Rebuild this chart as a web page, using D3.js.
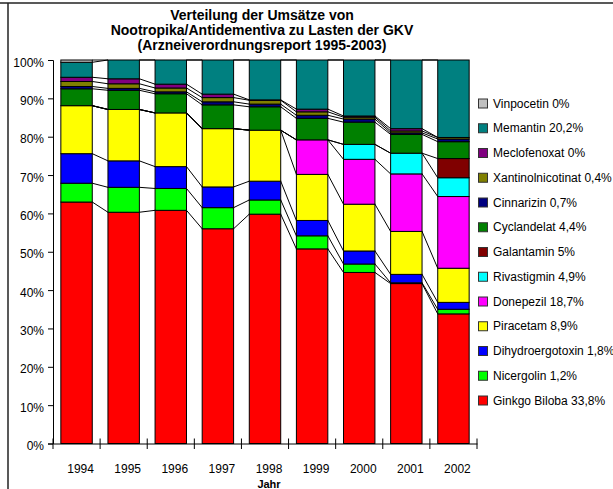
<!DOCTYPE html>
<html>
<head>
<meta charset="utf-8">
<script src="https://cdn.jsdelivr.net/npm/d3@7"></script>
<style>
  body { margin: 0; background: #fff; }
  text { font-family: "Liberation Sans", Arial, sans-serif; fill: #000; }
</style>
</head>
<body>
<div class="content"></div>
<script>
// chart values (percent of GKV sales)
var years = ["1994", "1995", "1996", "1997", "1998", "1999", "2000", "2001", "2002"];

var ginkgo       = [62.9, 60.3, 60.8, 56.0, 59.8, 50.7, 44.6, 41.7, 33.8];
var nicergolin   = [4.9, 6.5, 5.7, 5.5, 3.7, 3.4, 2.2, 0.2, 1.2];
var dihydro      = [7.7, 6.9, 5.7, 5.4, 4.9, 4.0, 3.4, 2.2, 1.8];
var piracetam    = [12.5, 13.4, 14.0, 15.2, 13.3, 12.0, 12.2, 11.2, 8.9];
var donepezil    = [0, 0, 0, 0, 0, 9.0, 11.7, 15.0, 18.7];
var rivastigmin  = [0, 0, 0, 0, 0, 0, 3.9, 5.4, 4.9];
var galantamin   = [0, 0, 0, 0, 0, 0, 0, 0, 5.0];
var cyclandelat  = [4.4, 5.0, 5.0, 6.2, 6.1, 5.6, 5.8, 4.9, 4.4];
var cinnarizin   = [0.6, 0.5, 0.5, 0.8, 0.7, 0.8, 0.8, 0.4, 0.7];
var xantinol     = [1.3, 1.2, 1.0, 1.1, 1.0, 0.9, 0.5, 0.5, 0.4];
var meclofenoxat = [1.1, 1.3, 1.0, 0.9, 0.1, 0.7, 0.3, 0.6, 0];
var memantin     = [3.9, 4.9, 6.3, 8.9, 10.4, 12.8, 14.6, 17.9, 20.2];
var vinpocetin   = [0.6, 0, 0, 0, 0, 0, 0, 0, 0];

// bottom to top
var seriesNames = ["Ginkgo Biloba", "Nicergolin", "Dihydroergotoxin", "Piracetam", "Donepezil",
    "Rivastigmin", "Galantamin", "Cyclandelat", "Cinnarizin", "Xantinolnicotinat",
    "Meclofenoxat", "Memantin", "Vinpocetin"];
var seriesValues = [ginkgo, nicergolin, dihydro, piracetam, donepezil, rivastigmin, galantamin,
    cyclandelat, cinnarizin, xantinol, meclofenoxat, memantin, vinpocetin];
var legendLabels = ["Ginkgo Biloba 33,8%", "Nicergolin 1,2%", "Dihydroergotoxin 1,8%", "Piracetam 8,9%",
    "Donepezil 18,7%", "Rivastigmin 4,9%", "Galantamin 5%", "Cyclandelat 4,4%", "Cinnarizin 0,7%",
    "Xantinolnicotinat 0,4%", "Meclofenoxat 0%", "Memantin 20,2%", "Vinpocetin 0%"];
var colors = ["#ff0000", "#00ff00", "#0000ff", "#ffff00", "#ff00ff", "#00ffff", "#800000",
    "#008000", "#000080", "#808000", "#800080", "#008080", "#c0c0c0"];
var yTicks = [0, 0.1, 0.2, 0.3, 0.4, 0.5, 0.6, 0.7, 0.8, 0.9, 1];
var titleLines = ["Verteilung der Umsätze von", "Nootropika/Antidementiva zu Lasten der GKV",
    "(Arzneiverordnungsreport 1995-2003)"];

// build rows for d3.stack
var table = years.map(function(yr, j) {
    var row = {year: yr};
    seriesNames.forEach(function(n, i) { row[n] = seriesValues[i][j]; });
    return row;
});

var W = 613, H = 489;
var svg = d3.select(".content")
    .append("svg")
    .attr("width", W)
    .attr("height", H);

// frame
svg.append("line").attr("x1", 0).attr("x2", W).attr("y1", 3).attr("y2", 3)
    .attr("stroke", "#222").attr("stroke-width", 1.5);
svg.append("line").attr("x1", 8).attr("x2", 8).attr("y1", 3).attr("y2", H)
    .attr("stroke", "#222").attr("stroke-width", 1.5);

var x = d3.scaleBand()
    .domain(years)
    .range([53, 477])
    .paddingInner(0.333)
    .paddingOuter(0.1665);

var y = d3.scaleLinear()
    .domain([0, 1])
    .range([443.5, 60]);

var stack = d3.stack().keys(seriesNames).offset(d3.stackOffsetExpand);
var layers = stack(table);

// title
svg.append("g").selectAll("text")
    .data(titleLines)
    .enter().append("text")
    .attr("x", 262)
    .attr("y", function(d, i) { return 20 + i * 15; })
    .attr("text-anchor", "middle")
    .style("font-size", "14px")
    .style("font-weight", "bold")
    .text(function(d) { return d; });

// bars
var layer = svg.append("g").selectAll("g")
    .data(layers)
    .enter().append("g")
    .attr("fill", function(d, i) { return colors[i]; });

layer.selectAll("rect")
    .data(function(d) { return d; })
    .enter().append("rect")
    .attr("x", function(d) { return x(d.data.year); })
    .attr("y", function(d) { return y(d[1]); })
    .attr("width", x.bandwidth())
    .attr("height", function(d) { return y(d[0]) - y(d[1]); })
    .attr("stroke", "#000")
    .attr("stroke-width", 1);

// series lines between bars
var segs = [];
layers.forEach(function(l) {
    for (var j = 0; j < l.length - 1; j++) {
        segs.push({x1: x(years[j]) + x.bandwidth(), y1: y(l[j][1]),
                   x2: x(years[j + 1]), y2: y(l[j + 1][1])});
    }
});
svg.append("g").selectAll("line")
    .data(segs)
    .enter().append("line")
    .attr("x1", function(d) { return d.x1; })
    .attr("y1", function(d) { return d.y1; })
    .attr("x2", function(d) { return d.x2; })
    .attr("y2", function(d) { return d.y2; })
    .attr("stroke", "#000")
    .attr("stroke-width", 1);

// Y axis
var yAxis = svg.append("g")
    .attr("transform", "translate(53,0)")
    .call(d3.axisLeft(y).tickValues(yTicks).tickFormat(d3.format(".0%")).tickSize(5).tickPadding(4));
yAxis.selectAll("text").style("font-size", "12px").attr("dy", "0.5em");
yAxis.select(".domain").attr("stroke", "#000");

// X axis: labels, then crossing ticks at category boundaries
var xAxis = svg.append("g")
    .attr("transform", "translate(0,443.5)")
    .call(d3.axisBottom(x).tickSize(0).tickPadding(21));
xAxis.selectAll("text").style("font-size", "12px").attr("dx", 4);
xAxis.select(".domain").attr("stroke", "#000");

var edges = years.map(function(yr) { return x(yr) - x.step() * x.paddingInner() / 2; });
edges[0] = x.range()[0];
edges.push(x.range()[1]);
svg.append("g").selectAll("line")
    .data(edges)
    .enter().append("line")
    .attr("x1", function(d) { return d; })
    .attr("x2", function(d) { return d; })
    .attr("y1", 438.5)
    .attr("y2", 449)
    .attr("stroke", "#000");

svg.append("text")
    .attr("x", 269)
    .attr("y", 488)
    .attr("text-anchor", "middle")
    .style("font-size", "11px")
    .style("font-weight", "bold")
    .text("Jahr");

// legend (top to bottom = reverse stack order)
var legendOrder = d3.range(seriesNames.length).reverse();
var legend = svg.append("g").selectAll("g")
    .data(legendOrder)
    .enter().append("g")
    .attr("transform", function(d, k) { return "translate(478," + (103.5 + k * 24.75) + ")"; });

legend.append("rect")
    .attr("x", 0.5)
    .attr("y", -4.5)
    .attr("width", 9)
    .attr("height", 9)
    .attr("fill", function(d) { return colors[d]; })
    .attr("stroke", "#333");

legend.append("text")
    .attr("x", 15)
    .attr("y", 0)
    .attr("dy", "0.35em")
    .style("font-size", "12px")
    .text(function(d) { return legendLabels[d]; });
</script>
</body>
</html>
